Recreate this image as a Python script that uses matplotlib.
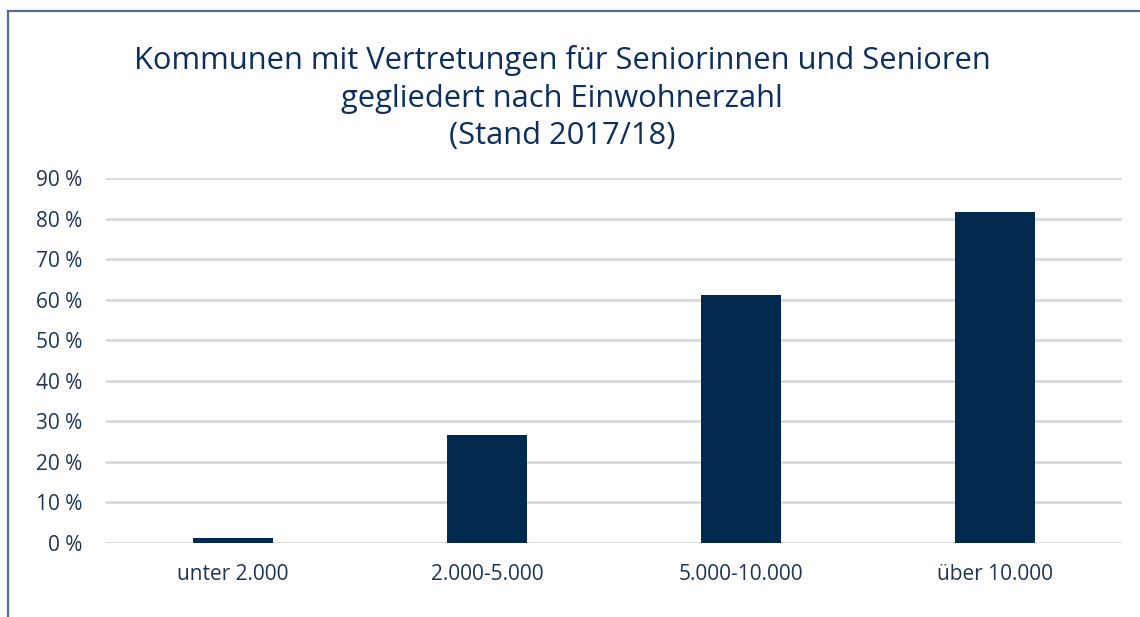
import matplotlib.pyplot as plt
from matplotlib.lines import Line2D

# data
categories = ['unter 2.000', '2.000-5.000', '5.000-10.000', 'über 10.000']
values = [1.2, 26.7, 61.2, 81.7]
yticks = [0, 10, 20, 30, 40, 50, 60, 70, 80, 90]

plt.rcParams['font.family'] = ['Open Sans', 'DejaVu Sans']

fig = plt.figure(figsize=(11.4, 6.17), dpi=100)
ax = fig.add_axes([0.093, 0.12, 0.891, 0.5915])

ax.bar(range(len(categories)), values, width=0.315, color='#022a4f', zorder=3)

ax.set_xlim(-0.5, len(categories) - 0.5)
ax.set_ylim(0, 90)
ax.set_yticks(yticks)
ax.set_yticklabels([f'{t} %' for t in yticks])
ax.set_xticks(range(len(categories)))
ax.set_xticklabels(categories)
ax.tick_params(axis='both', length=0, labelsize=15, colors='#1c3556')
ax.tick_params(axis='y', pad=17)
ax.tick_params(axis='x', pad=15)

ax.grid(axis='y', color='#d9d9d9', linewidth=2, zorder=0)
for s in ax.spines.values():
    s.set_visible(False)

fig.text(0.493, 1 - 98 / 617, 'Kommunen mit Vertretungen für Seniorinnen und Senioren\n'
         'gegliedert nach Einwohnerzahl\n(Stand 2017/18)',
         ha='center', va='center', fontsize=22.2, color='#0d2f5e', linespacing=1.33)

# frame around the chart (open to the right and bottom)
fx, fy = 7.5 / 1140, 1 - 10.5 / 617
fig.add_artist(Line2D([fx, fx], [0, fy], transform=fig.transFigure,
                      color='#4d6f97', linewidth=1.6))
fig.add_artist(Line2D([fx, 1], [fy, fy], transform=fig.transFigure,
                      color='#4d6f97', linewidth=1.6))

fig.savefig('out.png', dpi=100, facecolor='white')
